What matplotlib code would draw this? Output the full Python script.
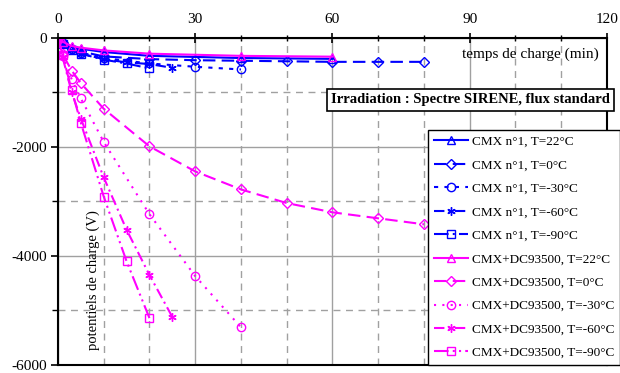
import matplotlib
matplotlib.use('Agg')
import matplotlib.pyplot as plt
from matplotlib.ticker import MultipleLocator

plt.rcParams['font.family'] = ['Liberation Serif', 'DejaVu Serif']
plt.rcParams['axes.unicode_minus'] = False

# temps de charge (min)
t_long = [0, 1, 3, 5, 10, 20, 30, 40, 50, 60, 70, 80]
t_22 = [0, 1, 3, 5, 10, 20, 40, 60]
t_m30 = [0, 1, 3, 5, 10, 20, 30, 40]
t_m60 = [0, 1, 3, 5, 10, 15, 20, 25]
t_m90 = [0, 1, 3, 5, 10, 15, 20]

# CMX n°1
cmx_22 = [0, -80, -170, -200, -260, -330, -370, -385]
cmx_0 = [0, -100, -200, -250, -340, -390, -410, -420, -430, -440, -440, -440]
cmx_m30 = [0, -100, -200, -270, -370, -470, -530, -580]
cmx_m60 = [0, -110, -220, -290, -390, -450, -480, -550]
cmx_m90 = [0, -110, -230, -290, -400, -470, -560]

# CMX+DC93500
dc_22 = [0, -70, -150, -180, -230, -290, -330, -345]
dc_0 = [0, -300, -600, -830, -1300, -1990, -2450, -2780, -3030, -3200, -3310, -3420]
dc_m30 = [0, -330, -760, -1110, -1910, -3235, -4370, -5310]
dc_m60 = [0, -350, -1000, -1480, -2560, -3520, -4350, -5120]
dc_m90 = [0, -310, -960, -1560, -2910, -4100, -5140]

blue = '#0000ff'
mag = '#ff00ff'
star = (6, 2, 0)

fig = plt.figure(figsize=(6.2, 3.73), dpi=100)
ax = fig.add_axes([0.0935, 0.0215, 0.8855, 0.877])

series = [
    (t_22, cmx_22, blue, '-', '^', 'CMX n°1, T=22°C'),
    (t_long, cmx_0, blue, (0, (6, 3)), 'D', 'CMX n°1, T=0°C'),
    (t_m30, cmx_m30, blue, (0, (2, 3)), 'o', 'CMX n°1, T=-30°C'),
    (t_m60, cmx_m60, blue, (0, (5, 2, 1, 2)), star, 'CMX n°1, T=-60°C'),
    (t_m90, cmx_m90, blue, (0, (7, 2, 1, 2)), 's', 'CMX n°1, T=-90°C'),
    (t_22, dc_22, mag, '-', '^', 'CMX+DC93500, T=22°C'),
    (t_long, dc_0, mag, (0, (6, 3)), 'D', 'CMX+DC93500, T=0°C'),
    (t_m30, dc_m30, mag, (0, (1, 3)), 'o', 'CMX+DC93500, T=-30°C'),
    (t_m60, dc_m60, mag, (0, (5, 2, 1, 2)), star, 'CMX+DC93500, T=-60°C'),
    (t_m90, dc_m90, mag, (0, (7, 2, 1, 2, 1, 2)), 's', 'CMX+DC93500, T=-90°C'),
]

for t, v, c, ls, m, lab in series:
    ms = 5 if m == 'D' else 6
    ax.plot(t, v, color=c, linestyle=ls, linewidth=1.5, marker=m,
            markersize=ms, markerfacecolor='none', markeredgecolor=c,
            markeredgewidth=1.0, label=lab)

ax.set_xlim(0, 120)
ax.set_ylim(-6000, 0)

ax.xaxis.set_major_locator(MultipleLocator(30))
ax.xaxis.set_minor_locator(MultipleLocator(10))
ax.yaxis.set_major_locator(MultipleLocator(2000))
ax.yaxis.set_minor_locator(MultipleLocator(1000))
ax.xaxis.tick_top()

ax.grid(which='major', color='#a0a0a0', linestyle='-', linewidth=1.0)
ax.grid(which='minor', color='#a0a0a0', linestyle=(0, (5, 4)), linewidth=1.0)
ax.set_axisbelow(True)

ax.tick_params(axis='x', which='major', direction='inout', length=7, width=1.2,
               labelsize=11, pad=5)
ax.tick_params(axis='x', which='minor', direction='inout', length=5, width=1)
ax.tick_params(axis='y', which='major', direction='out', length=5, width=1.2,
               labelsize=11, pad=3)
ax.tick_params(axis='y', which='minor', direction='out', length=4, width=1)
for s in ax.spines.values():
    s.set_linewidth(1.5)

ax.text(103.2, -300, 'temps de charge (min)', fontsize=11, ha='center', va='center')
ax.text(7.65, -4440, 'potentiels de charge (V)', fontsize=10.5, rotation=90,
        ha='center', va='center')

fig.text(0.759, 0.732, 'Irradiation : Spectre SIRENE, flux standard',
         fontsize=10.5, fontweight='bold', ha='center', va='center',
         bbox=dict(facecolor='white', edgecolor='black', linewidth=1.2,
                   boxstyle='square,pad=0.3'))

leg = fig.legend(loc='upper left', bbox_to_anchor=(0.69, 0.652),
                 borderaxespad=0, fontsize=9.5, frameon=True, fancybox=False,
                 edgecolor='black', framealpha=1, labelspacing=0.85,
                 handlelength=2.6, handletextpad=0.3, borderpad=0.45)
leg.get_frame().set_linewidth(1.0)

fig.savefig('out.png', dpi=100)
